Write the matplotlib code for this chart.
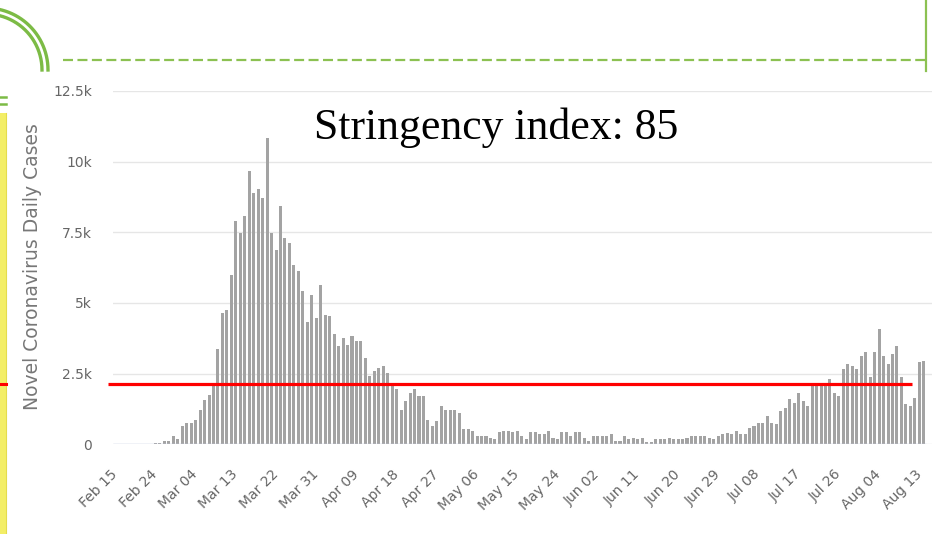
import matplotlib.pyplot as plt
import numpy as np

W, H = 932, 534

# tick labels every 9 days, Feb 15 .. Aug 13
tick_labels = ['Feb 15', 'Feb 24', 'Mar 04', 'Mar 13', 'Mar 22', 'Mar 31', 'Apr 09',
               'Apr 18', 'Apr 27', 'May 06', 'May 15', 'May 24', 'Jun 02', 'Jun 11',
               'Jun 20', 'Jun 29', 'Jul 08', 'Jul 17', 'Jul 26', 'Aug 04', 'Aug 13']
tick_step = 9

# daily cases, Feb 15 .. Aug 14
cases_feb = [0, 0, 0, 0, 0, 0, 0, 0, 0]
cases_wave1 = [60, 60, 120, 120, 300, 180, 630, 770, 770, 860, 1220, 1570, 1760, 2100,
               3370, 4650, 4760, 6000, 7900, 7480, 8070, 9670, 8900, 9020, 8710, 10850,
               7480, 6890, 8430, 7300, 7130, 6360, 6120, 5410, 4310, 5300, 4470, 5650,
               4590, 4530]
cases_decline = [3890, 3475, 3770, 3530, 3830, 3650, 3650, 3060, 2410, 2590, 2710, 2770,
                 2530, 2160, 1940, 1230, 1520, 1820, 1940, 1700, 1700, 870, 640, 815,
                 1350, 1230, 1230, 1230, 1110, 540, 540, 480, 300, 300, 300, 240, 180,
                 420, 480, 480, 420, 480, 300, 180, 420]
cases_low = [420, 360, 360, 480, 240, 180, 420, 420, 300, 420, 420, 240, 130, 300,
             300, 300, 300, 360, 130, 130, 300, 180, 240, 180, 240, 70, 70, 180, 180,
             180, 240, 180, 180, 180, 240, 300, 300, 300, 300, 240, 180, 300, 360]
cases_wave2 = [414, 355, 473, 355, 355, 591, 650, 768, 768, 1005, 768, 709, 1182, 1300,
               1596, 1478, 1832, 1537, 1360, 2070, 2100, 2070, 2070, 2305, 1832, 1714,
               2660, 2840, 2780, 2660, 3130, 3250, 2364, 3250, 4080, 3130, 2840, 3190,
               3490, 2364, 1420, 1360, 1650, 2900, 2950]

stringency_level = 2140
stringency_text = 'Stringency index: 85'

cases = cases_feb + cases_wave1 + cases_decline + cases_low + cases_wave2

fig = plt.figure(figsize=(W / 100, H / 100), dpi=100)

# slide decorations (pixel coordinates)
bg = fig.add_axes([0, 0, 1, 1])
bg.set_xlim(0, W)
bg.set_ylim(H, 0)
bg.axis('off')
green = '#7cbb45'
t = np.linspace(0, np.pi * 0.6, 200)
for r in (62, 56):
    bg.plot(-14 + r * np.cos(t), 70 - r * np.sin(t), color=green, lw=2.4)
bg.plot([63, 926], [60, 60], color='#8cc152', lw=1.6, dashes=(4.5, 2))
bg.plot([926, 926], [0, 71], color='#8cc152', lw=1.6)
bg.plot([0, 6], [97, 97], color=green, lw=1.8)
bg.plot([0, 6], [104, 104], color=green, lw=1.8)
bg.fill_between([0, 6], 113, H, color='#f3ee66', lw=0)
bg.plot([6, 6], [113, H], color='#e4dc4c', lw=0.8)
bg.plot([0, 6], [384, 384], color='red', lw=2.2)

fig.text(33 / W, 1 - 267 / H, 'Novel Coronavirus Daily Cases', rotation=90,
         ha='center', va='center', fontsize=13.5, color='#777777')

# chart
px_day = 4.467
ax = fig.add_axes([113 / W, (H - 444.3) / H, (W - 113) / W, (444.3 - 91) / H])
ax.patch.set_visible(False)
x = np.arange(len(cases))
ax.set_xlim(-0.5, -0.5 + (W - 113) / px_day)
ax.set_ylim(0, 12500)
ax.bar(x, cases, width=0.68, color='#a3a3a3', zorder=2)
ax.hlines(0, -0.5, len(cases) - 0.5, color='#ccd6eb', lw=1, zorder=3)
ax.hlines(stringency_level, -1.6, 178.4, color='#ff0000', lw=2.3, zorder=4, clip_on=False)

ax.set_yticks([0, 2500, 5000, 7500, 10000, 12500])
ax.set_yticklabels(['0', '2.5k', '5k', '7.5k', '10k', '12.5k'], color='#666666', fontsize=10)
ax.set_xticks(x[::tick_step])
ax.set_xticklabels(tick_labels, rotation=45, ha='right', va='center',
                   rotation_mode='anchor', color='#666666', fontsize=10)
ax.tick_params(axis='y', length=0, pad=15)
ax.tick_params(axis='x', length=0, pad=20)
ax.grid(axis='y', color='#e6e6e6', lw=1, zorder=0)
ax.set_axisbelow(True)
for s in ax.spines.values():
    s.set_visible(False)

fig.text(496 / W, 1 - 139 / H, stringency_text, ha='center', va='baseline',
         fontsize=31.5, family='Liberation Serif', color='black', zorder=10)

fig.savefig('out.png', dpi=100)
